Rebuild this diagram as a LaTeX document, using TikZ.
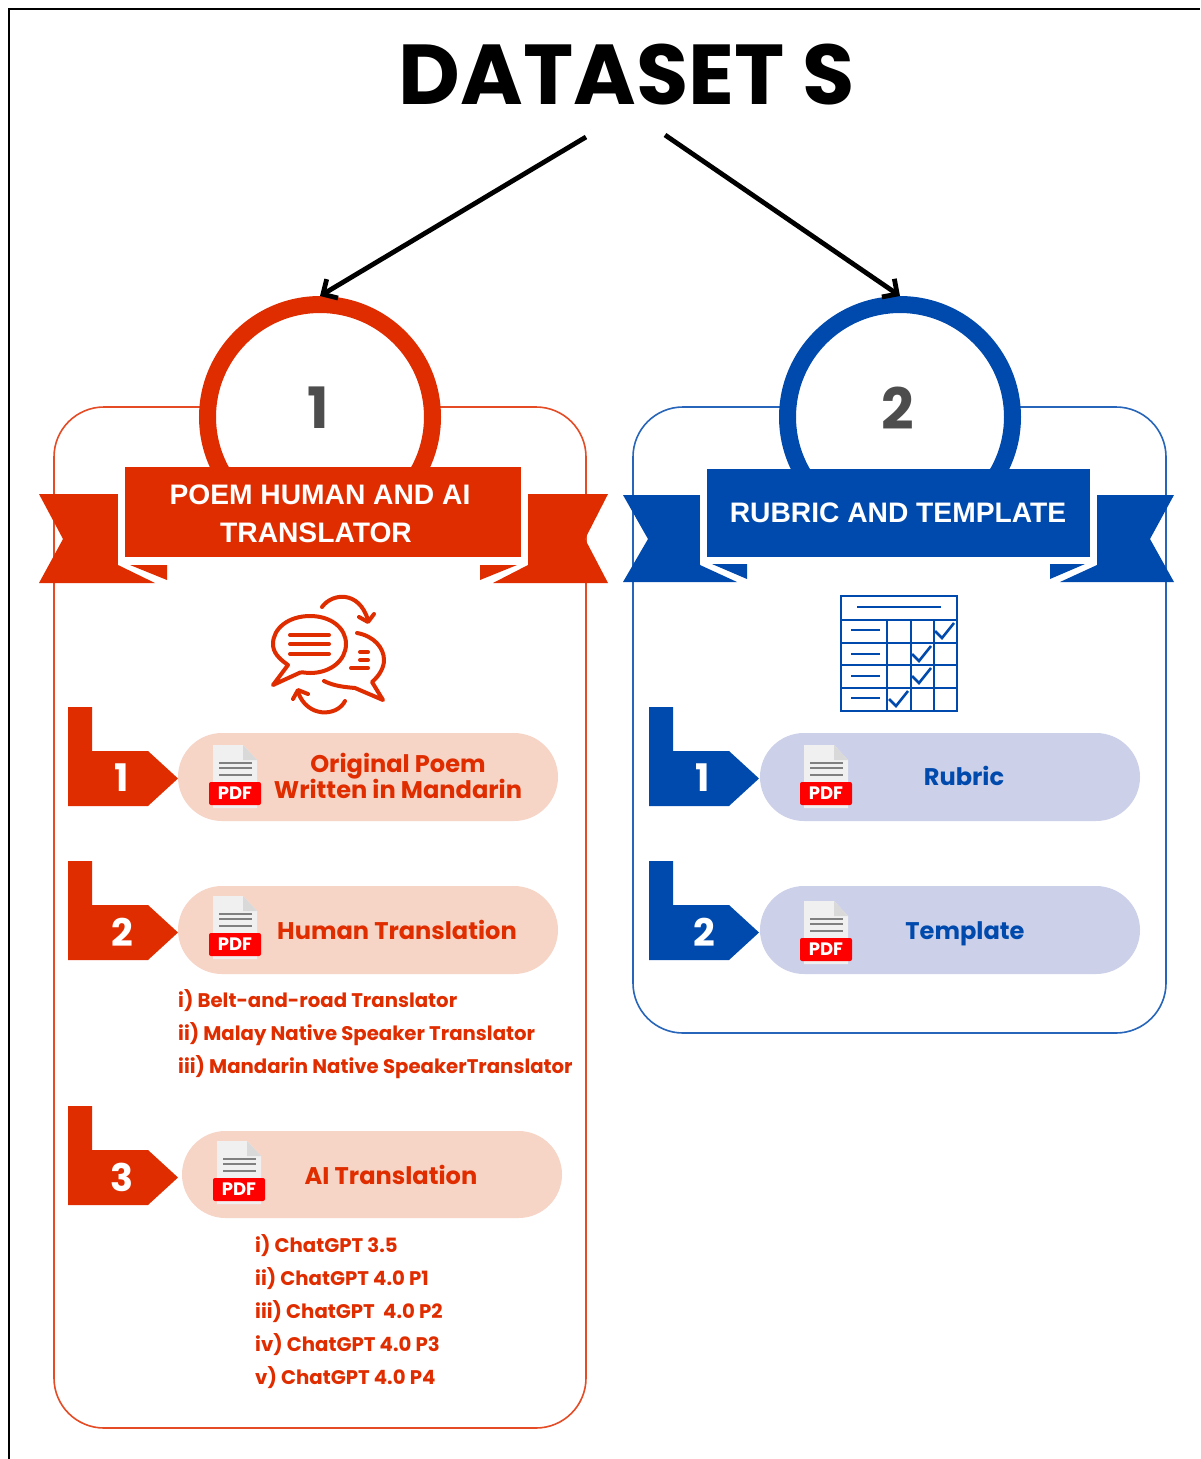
\documentclass[tikz,border=0pt]{standalone}
\usepackage{fontspec}
\usetikzlibrary{arrows.meta}
\setmainfont{Poppins}
\newfontfamily\arialb{Liberation Sans}
\definecolor{rd}{HTML}{E02D00}
\definecolor{bl}{HTML}{004AAD}
\definecolor{rpill}{HTML}{F6D5C7}
\definecolor{bpill}{HTML}{CCD0E9}
\definecolor{ringnum}{HTML}{4D4D4D}
\newcommand{\fs}[1]{\fontsize{#1}{#1}\selectfont}
\tikzset{
  x=1pt,y=-1pt,
  panelbox/.style={draw=#1!85!white,line width=1.6pt,rounded corners=50pt},
  ringnode/.style={circle,draw=#1,line width=17pt,fill=white,minimum size=225pt,inner sep=0pt},
  ringnum/.style={text=ringnum,font=\bfseries\fs{57},inner sep=0pt},
  ribbontext/.style={text=white,font=\arialb\bfseries\fs{28.2}},
  tagnum/.style={text=white,font=\bfseries\fs{38}},
  pilltext/.style={text=#1,font=\bfseries\fs{24.1},inner sep=0pt,text depth=0pt,text height=17pt},
  sublist/.style={text=rd,font=\bfseries\fs{19.7},anchor=west,inner sep=0pt,text depth=0pt,text height=14pt},
  ptr/.style={draw=black,line width=4.8pt,-{Straight Barb[length=11pt,width=22pt,line width=4.8pt]}},
  pics/tagmark/.style={code={
    \fill[#1] (0,0)--(24,0)--(24,44)--(80,44)--(110,71.5)--(80,99)--(0,99)--cycle;}},
  pics/pdficon/.style={code={
    \fill[black!6] (4,-37)--(34,-37)--(48,-22)--(48,26)--(4,26)--cycle;
    \fill[black!15] (34,-37)--(48,-22)--(34,-22)--cycle;
    \foreach \yy in {-19,-14,-7}{\draw[black!50,line width=2.4pt] (10,\yy)--(43,\yy);}
    \fill[red,rounded corners=2pt] (0,0) rectangle (52,23);
    \node[text=white,font=\bfseries\fs{18}] (pdflabel) at (26,11.5) {PDF};}}
}
\begin{document}
\begin{tikzpicture}
\useasboundingbox (0,0) rectangle (1200,1459);
\fill[white] (0,0) rectangle (1200,1459);
% outer frame
\draw[black,line width=2pt] (9,1459)--(9,9)--(1200,9);
% title
\node[font=\bfseries\fs{85},inner sep=0pt] (title) at (627,75) {DATASET S};
% panels
\draw[panelbox=rd] (54,407) rectangle (586,1428);
\draw[panelbox=bl] (633,407) rectangle (1166,1033);
% rings
\node[ringnode=rd] (ringA) at (320,417) {};
\node[ringnode=bl] (ringB) at (900,417) {};
\node[ringnum] (numA) at (318,408) {1};
\node[ringnum] (numB) at (898,408) {2};
% connectors
\coordinate (startA) at (586,137);
\coordinate (startB) at (665,135);
\draw[ptr] (startA) -- (ringA.north);
\draw[ptr] (startB) -- (ringB.north);
% ribbon red
\fill[rd] (39,494)--(118,494)--(118,565)--(155,583)--(39,583)--(63,539)--cycle;
\fill[rd] (130,565)--(167,565)--(167,580)--cycle;
\fill[rd] (608,494)--(528,494)--(528,565)--(493,583)--(608,583)--(585,539)--cycle;
\fill[rd] (517,565)--(480,565)--(480,580)--cycle;
\fill[white] (118,467) rectangle (125,565);
\fill[white] (521,467) rectangle (528,565);
\fill[white] (125,557) rectangle (521,565);
\fill[rd] (125,467) rectangle (521,557);
\node[ribbontext] (ribA1) at (320,495) {POEM HUMAN AND AI};
\node[ribbontext] (ribA2) at (316,533) {TRANSLATOR};
% ribbon blue
\fill[bl] (623,495)--(700,495)--(700,565)--(737,582)--(623,582)--(648,539)--cycle;
\fill[bl] (712,564)--(747,564)--(747,579)--cycle;
\fill[bl] (1174,495)--(1097,495)--(1097,565)--(1060,582)--(1174,582)--(1150,539)--cycle;
\fill[bl] (1085,564)--(1050,564)--(1050,579)--cycle;
\fill[white] (700,469) rectangle (707,564);
\fill[white] (1090,469) rectangle (1097,564);
\fill[white] (707,557) rectangle (1090,564);
\fill[bl] (707,469) rectangle (1090,557);
\node[ribbontext] (ribB) at (898,513) {RUBRIC AND TEMPLATE};
% translation icon
\begin{scope}[xshift=-1pt,draw=rd,line width=4pt,line cap=round,line join=round]
\draw (289,665) .. controls (279,658) and (274,652) .. (274,644) .. controls (274,628) and (290,616) .. (311,616) .. controls (332,616) and (347,628) .. (347,644) .. controls (347,660) and (332,673) .. (311,673) .. controls (305,673) and (302,671) .. (298,674) -- (274,685) -- cycle;
\draw (291,635)--(330,635) (291,644)--(330,644) (291,654)--(330,654);
\draw (358,633) .. controls (375,636) and (385,648) .. (385,660) .. controls (385,668) and (380,676) .. (373,682) -- (384,700) -- (356,688) .. controls (345,687) and (335,686) .. (325,681);
\draw (361,652)--(369,652) (361,660)--(369,660) (352,668)--(369,668);
\draw (323,607) .. controls (333,593) and (360,590) .. (369,620);
\draw (360,617)--(369,622)--(375,614);
\draw (346,701) .. controls (338,717) and (308,718) .. (299,692);
\draw (294,699)--(299,690)--(309,694);
\end{scope}
% rubric icon
\begin{scope}[draw=bl,line width=2.6pt]
\draw (841,596) rectangle (957,711);
\draw (841,620)--(957,620) (841,643)--(957,643) (841,665)--(957,665) (841,688)--(957,688);
\draw (887,620)--(887,711) (911,620)--(911,711) (934,620)--(934,711);
\draw (857,607)--(941,607);
\draw (851,630)--(880,630) (851,654)--(880,654) (851,676)--(880,676) (851,698)--(880,698);
\draw (935,631)--(942,638)--(954,623);
\draw (912,654)--(919,661)--(931,646);
\draw (912,676)--(919,683)--(931,668);
\draw (889,699)--(896,706)--(908,691);
\end{scope}
% pills
\fill[rpill,rounded corners=44pt] (178,733) rectangle (558,821);
\fill[rpill,rounded corners=44pt] (178,886) rectangle (558,974);
\fill[rpill,rounded corners=43.5pt] (182,1131) rectangle (562,1218);
\fill[bpill,rounded corners=44pt] (760,733) rectangle (1140,821);
\fill[bpill,rounded corners=44pt] (760,886) rectangle (1140,974);
% tags
\pic at (68,707) {tagmark=rd};
\pic at (68,861) {tagmark=rd};
\pic at (68,1106) {tagmark=rd};
\pic at (649,707) {tagmark=bl};
\pic at (649,861) {tagmark=bl};
\node[tagnum] (tagA1) at (122,778) {1};
\node[tagnum] (tagA2) at (122,932) {2};
\node[tagnum] (tagA3) at (122,1177) {3};
\node[tagnum] (tagB1) at (703,778) {1};
\node[tagnum] (tagB2) at (704,932) {2};
% pdf icons
\pic at (209,782) {pdficon};
\pic at (209,933) {pdficon};
\pic at (213,1178) {pdficon};
\pic at (800,782) {pdficon};
\pic at (800,938) {pdficon};
% pill text
\node[pilltext=rd] (poemA) at (398,764) {Original Poem};
\node[pilltext=rd] (poemB) at (398,790) {Written in Mandarin};
\node[pilltext=rd] (human) at (397,931) {Human Translation};
\node[pilltext=rd] (ai) at (391,1176) {AI Translation};
\node[pilltext=bl] (rubric) at (964,777) {Rubric};
\node[pilltext=bl] (template) at (965,931) {Template};
% lists
\node[sublist] (h1) at (178,1000) {i) Belt-and-road Translator};
\node[sublist] (h2) at (178,1033) {ii) Malay Native Speaker Translator};
\node[sublist] (h3) at (178,1066) {iii) Mandarin Native SpeakerTranslator};
\node[sublist] (a1) at (255,1245) {i) ChatGPT 3.5};
\node[sublist] (a2) at (255,1278) {ii) ChatGPT 4.0 P1};
\node[sublist] (a3) at (255,1311) {iii) ChatGPT\ \ 4.0 P2};
\node[sublist] (a4) at (255,1344) {iv) ChatGPT 4.0 P3};
\node[sublist] (a5) at (255,1377) {v) ChatGPT 4.0 P4};
\end{tikzpicture}
\end{document}
